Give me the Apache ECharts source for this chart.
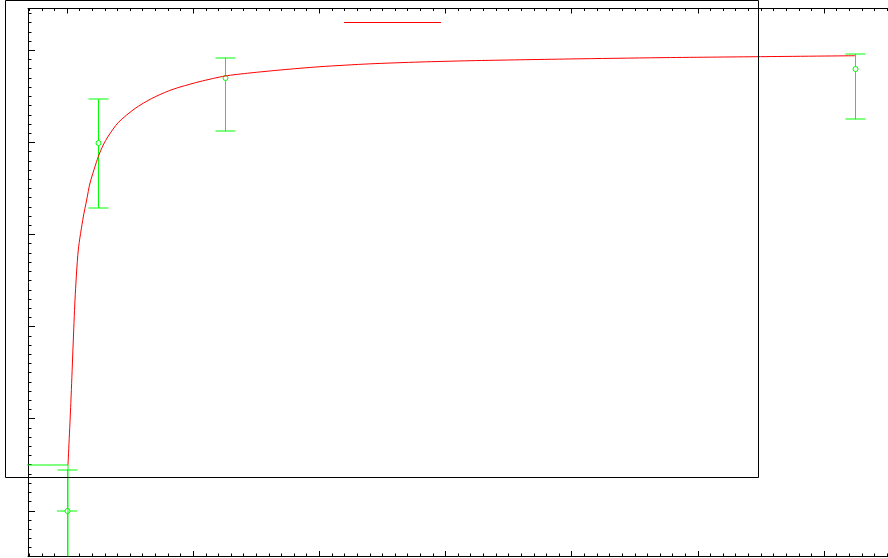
<!DOCTYPE html>
<html><head><meta charset="utf-8">
<script src="https://cdn.jsdelivr.net/npm/echarts@6/dist/echarts.min.js"></script>
<style>html,body{margin:0;padding:0;background:#fff}#c{width:888px;height:558px}</style>
</head><body><div id="c"></div>
<script>
// ---- axis ranges / ticks ----
const xAxisRange = [-6.18, 136.48];
const xMajorStep = 20;
const xMinorDiv = 10;
const yAxisRange = [-0.491, 5.454];
const yMajorStep = 1;
const yMinorDiv = 10;

// ---- measured points with errors ----
const pointX   = [0, 4.92, 25.05, 124.95];
const pointY   = [0.0, 3.99, 4.70, 4.80];
const errYLow  = [-0.8, 3.29, 4.12, 4.25];
const errYHigh = [0.443, 4.47, 4.92, 4.96];
const errX     = [1.585, 0, 0, 0];

// ---- fitted curve ----
const fitX = [0.16, 0.63, 1.27, 1.79, 2.58, 3.12, 3.65, 4.96, 5.75, 6.55, 8.13, 10.78, 13.43, 16.06, 17.91, 21.08, 25.05, 29.01, 33.77, 40.1, 48.0, 55.96, 63.9, 71.8, 79.7, 94.0, 109.9, 124.9];
const fitY = [0.497, 1.203, 2.289, 2.832, 3.190, 3.374, 3.559, 3.845, 3.972, 4.069, 4.216, 4.368, 4.477, 4.558, 4.601, 4.661, 4.721, 4.754, 4.786, 4.822, 4.853, 4.873, 4.887, 4.897, 4.906, 4.920, 4.931, 4.941];

// ---- green polyline at lower left (horizontal then down) ----
const segX = [-8, 0.16, 0.16];
const segY = [0.497, 0.497, -1.0];

const GREEN = '#00ff00';
const RED = '#ff0000';

const chart = echarts.init(document.getElementById('c'), null, {renderer: 'canvas'});

function axisCommon(range, step, minorDiv, majorLen, minorLen) {
  return {
    type: 'value', min: range[0], max: range[1],
    minInterval: step, maxInterval: step, splitNumber: 8,
    axisLine: {show: true, onZero: false, lineStyle: {color: '#000', width: 1}},
    axisTick: {show: true, inside: true, length: majorLen, lineStyle: {color: '#000', width: 1}},
    minorTick: {show: true, splitNumber: minorDiv, length: minorLen, lineStyle: {color: '#000', width: 1}},
    axisLabel: {show: false},
    splitLine: {show: false},
    minorSplitLine: {show: false}
  };
}

const errData = pointX.map((x, i) => [x, pointY[i], errYLow[i], errYHigh[i], errX[i]]);
const fitData = fitX.map((x, i) => [x, fitY[i]]);
const segData = segX.map((x, i) => [x, segY[i]]);

function renderErr(params, api) {
  const cs = params.coordSys;
  const top = cs.y, bot = cs.y + cs.height, left = cs.x, right = cs.x + cs.width;
  const x = api.value(0), y = api.value(1), lo = api.value(2), hi = api.value(3), ex = api.value(4);
  const pC = api.coord([x, y]);
  const pLo = api.coord([x, lo]);
  const pHi = api.coord([x, hi]);
  const cl = v => Math.max(top, Math.min(bot, v));
  const px = Math.round(pC[0]) + 0.5;
  const capW = 10;
  const st = {stroke: GREEN, lineWidth: 1, fill: null};
  const ch = [];
  ch.push({type: 'line', shape: {x1: px, y1: cl(pHi[1]), x2: px, y2: cl(pLo[1])}, style: st});
  [pHi[1], pLo[1]].forEach(yy => {
    if (yy >= top && yy <= bot) {
      const yr = Math.round(yy);
      ch.push({type: 'line', shape: {x1: px - capW, y1: yr, x2: px + capW, y2: yr}, style: st});
    }
  });
  if (ex > 0) {
    const a = api.coord([x - ex, y]), b = api.coord([x + ex, y]);
    const yr = Math.round(pC[1]);
    ch.push({type: 'line', shape: {x1: Math.max(left, a[0]), y1: yr, x2: Math.min(right, b[0]), y2: yr}, style: st});
  }
  ch.push({type: 'circle', shape: {cx: px, cy: Math.round(pC[1]), r: 2.5}, style: {stroke: GREEN, lineWidth: 1, fill: '#fff'}});
  return {type: 'group', children: ch};
}

const option = {
  backgroundColor: '#fff',
  animation: false,
  grid: {left: 28, top: 8.5, width: 900, bottom: 2, containLabel: false, outerBoundsMode: 'none'},
  legend: {
    data: [{name: 'fit', icon: 'rect'}],
    left: 344, top: 22, padding: 0,
    itemWidth: 97, itemHeight: 1,
    formatter: () => '',
    textStyle: {fontSize: 1},
    selectedMode: false
  },
  xAxis: [
    Object.assign(axisCommon(xAxisRange, xMajorStep, xMinorDiv, 5, 2.5), {position: 'bottom'}),
    Object.assign(axisCommon(xAxisRange, xMajorStep, xMinorDiv, 5, 2.5), {position: 'top'})
  ],
  yAxis: [
    Object.assign(axisCommon(yAxisRange, yMajorStep, yMinorDiv, 7, 3.5), {position: 'left'})
  ],
  graphic: [{
    type: 'rect', silent: true, z: 100,
    shape: {x: 5.5, y: 0.5, width: 753, height: 477},
    style: {fill: 'none', stroke: '#000', lineWidth: 1}
  }],
  series: [
    {
      name: 'points', type: 'custom', xAxisIndex: 0, yAxisIndex: 0,
      data: errData, renderItem: renderErr,
      encode: {x: 0, y: [1, 2, 3]}, z: 2
    },
    {
      name: 'seg', type: 'line', data: segData, symbol: 'none', clip: true,
      lineStyle: {color: GREEN, width: 1}, itemStyle: {color: GREEN}, z: 2
    },
    {
      name: 'fit', type: 'line', data: fitData, symbol: 'none', smooth: 0.25,
      clip: true, lineStyle: {color: RED, width: 1}, itemStyle: {color: RED}, z: 3
    }
  ]
};
chart.setOption(option);
</script>
</body></html>
